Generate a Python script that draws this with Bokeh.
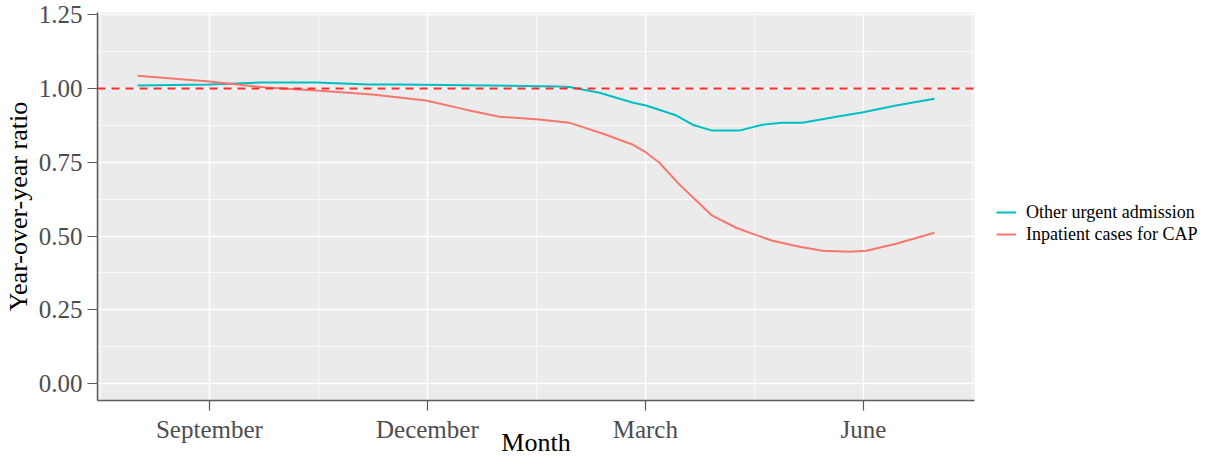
from bokeh.plotting import figure
from bokeh.models import FixedTicker, Legend, LegendItem, Span
from bokeh.embed import file_html
from bokeh.resources import INLINE

# month index: September = 0, December = 3, March = 6, June = 9
month_ticks = [0, 3, 6, 9]
month_labels = ["September", "December", "March", "June"]
y_ticks = [0.0, 0.25, 0.5, 0.75, 1.0, 1.25]

other_x = [-0.99, 0.0, 0.69, 1.47, 2.2, 2.61, 3.85, 4.82, 4.95, 5.37, 5.82, 6.01, 6.43, 6.65, 6.92,
           7.29, 7.61, 7.88, 8.16, 8.63, 8.98, 9.45, 9.98]
other_y = [1.01, 1.013, 1.02, 1.02, 1.013, 1.013, 1.01, 1.006, 1.005, 0.985, 0.952, 0.942, 0.908,
           0.877, 0.857, 0.857, 0.877, 0.884, 0.884, 0.904, 0.918, 0.942, 0.965]

cap_x = [-0.99, 0.0, 0.78, 1.47, 2.24, 2.98, 3.53, 3.99, 4.54, 4.95, 5.46, 5.82, 6.01, 6.19, 6.47,
         6.70, 6.92, 7.25, 7.47, 7.75, 8.12, 8.44, 8.81, 9.04, 9.45, 9.98]
cap_y = [1.043, 1.023, 1.003, 0.993, 0.979, 0.959, 0.928, 0.904, 0.895, 0.884, 0.843, 0.810, 0.783,
         0.749, 0.674, 0.620, 0.569, 0.528, 0.508, 0.484, 0.464, 0.450, 0.447, 0.450, 0.474, 0.511]

reference_ratio = 1.0

FONT = "Liberation Serif"

p = figure(frame_width=877, frame_height=388, output_backend="svg", toolbar_location=None,
           x_range=(-1.54, 10.53), y_range=(-0.057, 1.257),
           min_border_left=90, min_border_right=222, min_border_top=12, min_border_bottom=40)

p.background_fill_color = "#EBEBEB"
p.border_fill_color = "white"
p.outline_line_color = None

p.xaxis.ticker = FixedTicker(ticks=month_ticks, minor_ticks=[-1.5, 1.5, 4.5, 7.5, 10.5])
p.xaxis.major_label_overrides = {t: l for t, l in zip(month_ticks, month_labels)}
p.yaxis.ticker = FixedTicker(ticks=y_ticks, minor_ticks=[0.125, 0.375, 0.625, 0.875, 1.125])
p.yaxis.major_label_overrides = {t: "%.2f" % t for t in y_ticks}

for ax in (p.xaxis[0], p.yaxis[0]):
    ax.axis_line_color = "#5A5A5A"
    ax.axis_line_width = 1.5
    ax.major_tick_line_color = "#5A5A5A"
    ax.major_tick_line_width = 1.2
    ax.major_tick_out = 10
    ax.major_tick_in = 0
    ax.minor_tick_line_color = None
    ax.major_label_text_font = FONT
    ax.major_label_text_font_size = "25px"
    ax.major_label_text_color = "#4D4D4D"
    ax.axis_label_text_font = FONT
    ax.axis_label_text_font_size = "26px"
    ax.axis_label_text_font_style = "normal"
    ax.axis_label_text_color = "black"

p.xaxis.axis_label = "Month"
p.yaxis.axis_label = "Year-over-year ratio"
p.xaxis.major_label_standoff = 5
p.xaxis.axis_label_standoff = -18
p.yaxis.major_label_standoff = 5
p.yaxis.axis_label_standoff = 3

p.grid.grid_line_color = "white"
p.grid.grid_line_width = 1.4
p.grid.minor_grid_line_color = "white"
p.grid.minor_grid_line_width = 0.7

p.add_layout(Span(location=reference_ratio, dimension="width", line_color="#FF2A2A",
                  line_dash="8 6", line_width=2))

r_other = p.line(other_x, other_y, line_color="#00BFC4", line_width=2)
r_cap = p.line(cap_x, cap_y, line_color="#F8766D", line_width=2)

legend = Legend(items=[LegendItem(label="Other urgent admission", renderers=[r_other]),
                       LegendItem(label="Inpatient cases for CAP", renderers=[r_cap])],
                location=(22, 155), label_text_font=FONT, label_text_font_size="18px",
                label_text_color="black", glyph_width=20, glyph_height=22, label_height=22,
                spacing=0, padding=0, margin=0, label_standoff=10,
                border_line_color=None, background_fill_alpha=0)
p.add_layout(legend, "right")

open("out.html", "w").write(file_html(p, INLINE))
